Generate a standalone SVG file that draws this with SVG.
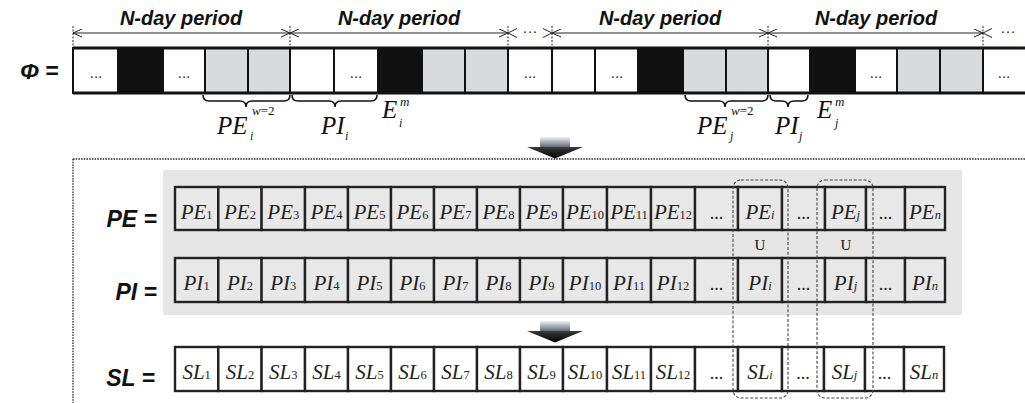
<svg xmlns="http://www.w3.org/2000/svg" width="1025" height="403" viewBox="0 0 1025 403">
  <style>
    .hdr { font-family: "Liberation Sans", Arial, sans-serif; font-weight: bold; font-style: italic; font-size: 20px; fill: #111; }
    .lbl { font-family: "Liberation Sans", Arial, sans-serif; font-weight: bold; font-style: italic; font-size: 23px; fill: #111; }
    .ser { font-family: "Liberation Serif", "Times New Roman", serif; fill: #111; }
    .ct  { font-family: "Liberation Serif", "Times New Roman", serif; font-style: italic; font-size: 21px; fill: #222; text-anchor: middle; }
    .sub { font-style: normal; font-size: 12.5px; }
    .subi { font-style: italic; font-size: 12.5px; }
    .dots { font-family: "Liberation Serif", "Times New Roman", serif; font-size: 18px; fill: #222; text-anchor: middle; }
    .tdots { font-family: "Liberation Sans", Arial, sans-serif; font-size: 15px; fill: #222; text-anchor: middle; }
    .cellW { fill: #ffffff; stroke: #111; stroke-width: 2; }
    .cellK { fill: #111111; stroke: #111; stroke-width: 2; }
    .cellG { fill: #d9dadc; stroke: #111; stroke-width: 2; }
    .box  { fill: #e8e8e8; stroke: #222; stroke-width: 2.4; }
    .boxW { fill: #ffffff; stroke: #222; stroke-width: 2.4; }
    .tick { stroke: #222; stroke-width: 1; stroke-dasharray: 2 1.5; }
    .span { stroke: #222; stroke-width: 1; fill: none; marker-start: url(#vhead); marker-end: url(#vhead); }
    .brace { fill: none; stroke: #111; stroke-width: 1.5; }
    .frame { stroke: #222; stroke-width: 1.3; stroke-dasharray: 1.5 1.2; fill: none; }
    .grp { fill: none; stroke: #444; stroke-width: 1.1; stroke-dasharray: 3 1.8; }
  </style>
  <defs>
    <marker id="vhead" viewBox="0 0 9 9" refX="9" refY="4.5" markerWidth="9" markerHeight="9" markerUnits="userSpaceOnUse" orient="auto-start-reverse">
      <path d="M0,0.5 L9,4.5 L0,8.5" fill="none" stroke="#222" stroke-width="1"/>
    </marker>
    <linearGradient id="shaftGrad" x1="0" y1="0" x2="0" y2="1">
      <stop offset="0" stop-color="#eef2f7"/>
      <stop offset="1" stop-color="#5b6574"/>
    </linearGradient>
    <linearGradient id="headGrad" x1="0" y1="0" x2="0" y2="1">
      <stop offset="0" stop-color="#3a3a3a"/>
      <stop offset="1" stop-color="#000"/>
    </linearGradient>
  </defs>

  <!-- period headers -->
  <g id="periods">
    <text class="hdr" x="181" y="25" text-anchor="middle">N-day period</text>
    <text class="hdr" x="399" y="25" text-anchor="middle">N-day period</text>
    <text class="hdr" x="660" y="25" text-anchor="middle">N-day period</text>
    <text class="hdr" x="876" y="25" text-anchor="middle">N-day period</text>
    <line class="tick" x1="73" y1="26" x2="73" y2="48"/>
    <line class="tick" x1="290" y1="26" x2="290" y2="48"/>
    <line class="tick" x1="508" y1="26" x2="508" y2="48"/>
    <line class="tick" x1="552" y1="26" x2="552" y2="48"/>
    <line class="tick" x1="768" y1="26" x2="768" y2="48"/>
    <line class="tick" x1="983" y1="26" x2="983" y2="48"/>
    <line class="span" x1="73" y1="33" x2="290" y2="33"/>
    <line class="span" x1="290" y1="33" x2="508" y2="33"/>
    <line class="span" x1="552" y1="33" x2="768" y2="33"/>
    <line class="span" x1="768" y1="33" x2="983" y2="33"/>
    <path d="M517,28.5 L508,33 L517,37.5 M543,28.5 L552,33 L543,37.5" fill="none" stroke="#222" stroke-width="1"/>
    <text class="tdots" x="530" y="36">···</text>
    <path d="M992,28.5 L983,33 L992,37.5" fill="none" stroke="#222" stroke-width="1"/>
    <text class="tdots" x="1008" y="36">···</text>
  </g>

  <!-- phi sequence -->
  <g id="phi">
    <text class="lbl" x="20" y="79" font-weight="normal">Φ</text>
    <text class="lbl" x="45" y="79">=</text>
    <rect class="cellW" x="73" y="48" width="45" height="45"/>
    <rect class="cellK" x="118" y="48" width="45" height="45"/>
    <rect class="cellW" x="163" y="48" width="42" height="45"/>
    <rect class="cellG" x="205" y="48" width="43" height="45"/>
    <rect class="cellG" x="248" y="48" width="42" height="45"/>
    <rect class="cellW" x="290" y="48" width="44" height="45"/>
    <rect class="cellW" x="334" y="48" width="44" height="45"/>
    <rect class="cellK" x="378" y="48" width="44" height="45"/>
    <rect class="cellG" x="422" y="48" width="43" height="45"/>
    <rect class="cellG" x="465" y="48" width="43" height="45"/>
    <rect class="cellW" x="508" y="48" width="44" height="45"/>
    <rect class="cellW" x="552" y="48" width="43" height="45"/>
    <rect class="cellW" x="595" y="48" width="43" height="45"/>
    <rect class="cellK" x="638" y="48" width="45" height="45"/>
    <rect class="cellG" x="683" y="48" width="43" height="45"/>
    <rect class="cellG" x="726" y="48" width="42" height="45"/>
    <rect class="cellW" x="768" y="48" width="42" height="45"/>
    <rect class="cellK" x="810" y="48" width="45" height="45"/>
    <rect class="cellW" x="855" y="48" width="42" height="45"/>
    <rect class="cellG" x="897" y="48" width="43" height="45"/>
    <rect class="cellG" x="940" y="48" width="43" height="45"/>
    <rect class="cellW" x="983" y="48" width="50" height="45"/>
    <line x1="73" y1="48" x2="1025" y2="48" stroke="#111" stroke-width="3"/>
    <line x1="73" y1="93" x2="1025" y2="93" stroke="#111" stroke-width="3"/>
    <text class="tdots" x="96" y="78">...</text>
    <text class="tdots" x="184" y="78">...</text>
    <text class="tdots" x="356" y="78">...</text>
    <text class="tdots" x="530" y="78">...</text>
    <text class="tdots" x="617" y="78">...</text>
    <text class="tdots" x="876" y="78">...</text>
    <text class="tdots" x="1004" y="78">...</text>
  </g>

  <!-- braces and their labels -->
  <g id="braces">
    <path class="brace" d="M203,95 Q203,101 209,101 L240,101 Q246,101 246,107 Q246,101 252,101 L284,101 Q290,101 290,95"/>
    <path class="brace" d="M292,95 Q292,101 298,101 L329,101 Q335,101 335,107 Q335,101 341,101 L371,101 Q377,101 377,95"/>
    <path class="brace" d="M685,95 Q685,101 691,101 L719,101 Q725,101 725,107 Q725,101 731,101 L762,101 Q768,101 768,95"/>
    <path class="brace" d="M770,95 Q770,101 776,101 L782,101 Q788,101 788,107 Q788,101 794,101 L802,101 Q808,101 808,95"/>

    <text class="ser" x="217" y="134" font-size="25" font-style="italic">PE</text>
    <text class="ser" x="252" y="115" font-size="13"><tspan font-style="italic">w</tspan>=2</text>
    <text class="ser" x="250" y="140" font-size="12" font-style="italic">i</text>

    <text class="ser" x="321" y="134" font-size="25" font-style="italic">PI</text>
    <text class="ser" x="345" y="140" font-size="12" font-style="italic">i</text>

    <text class="ser" x="382" y="118" font-size="25" font-style="italic">E</text>
    <text class="ser" x="400" y="106" font-size="13" font-style="italic">m</text>
    <text class="ser" x="399" y="127" font-size="12" font-style="italic">i</text>

    <text class="ser" x="697" y="134" font-size="25" font-style="italic">PE</text>
    <text class="ser" x="731" y="115" font-size="13"><tspan font-style="italic">w</tspan>=2</text>
    <text class="ser" x="730" y="140" font-size="12" font-style="italic">j</text>

    <text class="ser" x="775" y="134" font-size="25" font-style="italic">PI</text>
    <text class="ser" x="799" y="140" font-size="12" font-style="italic">j</text>

    <text class="ser" x="817" y="118" font-size="25" font-style="italic">E</text>
    <text class="ser" x="835" y="106" font-size="13" font-style="italic">m</text>
    <text class="ser" x="835" y="127" font-size="12" font-style="italic">j</text>
  </g>

  <!-- dotted frame of the lower part -->
  <g id="frame">
    <line class="frame" x1="73" y1="159" x2="1025" y2="159"/>
    <line class="frame" x1="73" y1="159" x2="73" y2="403"/>
  </g>

  <!-- transition arrows -->
  <g id="arrows">
    <rect x="540" y="137" width="30" height="10.5" fill="url(#shaftGrad)"/>
    <polygon points="527,147 583,147 555,158.5" fill="url(#headGrad)"/>
    <rect x="540" y="321" width="30" height="10.5" fill="url(#shaftGrad)"/>
    <polygon points="527,331 583,331 555,342.5" fill="url(#headGrad)"/>
  </g>

  <!-- shaded panel behind PE and PI -->
  <rect id="panel" x="163" y="170" width="799" height="145" fill="#e6e6e6"/>

  <!-- PE row -->
  <g id="pe-row">
    <text class="lbl" x="157" y="227" text-anchor="end">PE =</text>
    <rect class="box" x="175" y="187" width="43.3" height="43"/>
    <rect class="box" x="218.3" y="187" width="43.3" height="43"/>
    <rect class="box" x="261.6" y="187" width="43.4" height="43"/>
    <rect class="box" x="305" y="187" width="43" height="43"/>
    <rect class="box" x="348" y="187" width="43" height="43"/>
    <rect class="box" x="391" y="187" width="43" height="43"/>
    <rect class="box" x="434" y="187" width="43" height="43"/>
    <rect class="box" x="477" y="187" width="43" height="43"/>
    <rect class="box" x="520" y="187" width="43" height="43"/>
    <rect class="box" x="563" y="187" width="44" height="43"/>
    <rect class="box" x="607" y="187" width="44" height="43"/>
    <rect class="box" x="651" y="187" width="44" height="43"/>
    <rect class="box" x="695" y="187" width="43" height="43"/>
    <rect class="box" x="738" y="187" width="44" height="43"/>
    <rect class="box" x="782" y="187" width="43" height="43"/>
    <rect class="box" x="825" y="187" width="41" height="43"/>
    <rect class="box" x="866" y="187" width="39" height="43"/>
    <rect class="box" x="905" y="187" width="40" height="43"/>
    <text class="ct" x="196.6" y="219">PE<tspan class="sub">1</tspan></text>
    <text class="ct" x="240" y="219">PE<tspan class="sub">2</tspan></text>
    <text class="ct" x="283.3" y="219">PE<tspan class="sub">3</tspan></text>
    <text class="ct" x="326.5" y="219">PE<tspan class="sub">4</tspan></text>
    <text class="ct" x="369.5" y="219">PE<tspan class="sub">5</tspan></text>
    <text class="ct" x="412.5" y="219">PE<tspan class="sub">6</tspan></text>
    <text class="ct" x="455.5" y="219">PE<tspan class="sub">7</tspan></text>
    <text class="ct" x="498.5" y="219">PE<tspan class="sub">8</tspan></text>
    <text class="ct" x="541.5" y="219">PE<tspan class="sub">9</tspan></text>
    <text class="ct" x="585" y="219">PE<tspan class="sub">10</tspan></text>
    <text class="ct" x="629" y="219">PE<tspan class="sub">11</tspan></text>
    <text class="ct" x="673" y="219">PE<tspan class="sub">12</tspan></text>
    <text class="dots" x="716.5" y="219">...</text>
    <text class="ct" x="760" y="219">PE<tspan class="subi">i</tspan></text>
    <text class="dots" x="803.5" y="219">...</text>
    <text class="ct" x="845.5" y="219">PE<tspan class="subi">j</tspan></text>
    <text class="dots" x="885.5" y="219">...</text>
    <text class="ct" x="925" y="219">PE<tspan class="subi">n</tspan></text>
  </g>

  <!-- union marks -->
  <g id="unions">
    <text class="ser" x="760" y="250" font-size="15" text-anchor="middle">U</text>
    <text class="ser" x="846" y="250" font-size="15" text-anchor="middle">U</text>
  </g>

  <!-- PI row -->
  <g id="pi-row">
    <text class="lbl" x="157" y="300" text-anchor="end">PI =</text>
    <rect class="box" x="175" y="258" width="43.3" height="44"/>
    <rect class="box" x="218.3" y="258" width="43.3" height="44"/>
    <rect class="box" x="261.6" y="258" width="43.4" height="44"/>
    <rect class="box" x="305" y="258" width="43" height="44"/>
    <rect class="box" x="348" y="258" width="43" height="44"/>
    <rect class="box" x="391" y="258" width="43" height="44"/>
    <rect class="box" x="434" y="258" width="43" height="44"/>
    <rect class="box" x="477" y="258" width="43" height="44"/>
    <rect class="box" x="520" y="258" width="43" height="44"/>
    <rect class="box" x="563" y="258" width="44" height="44"/>
    <rect class="box" x="607" y="258" width="44" height="44"/>
    <rect class="box" x="651" y="258" width="44" height="44"/>
    <rect class="box" x="695" y="258" width="43" height="44"/>
    <rect class="box" x="738" y="258" width="44" height="44"/>
    <rect class="box" x="782" y="258" width="43" height="44"/>
    <rect class="box" x="825" y="258" width="41" height="44"/>
    <rect class="box" x="866" y="258" width="39" height="44"/>
    <rect class="box" x="905" y="258" width="40" height="44"/>
    <text class="ct" x="196.6" y="290">PI<tspan class="sub">1</tspan></text>
    <text class="ct" x="240" y="290">PI<tspan class="sub">2</tspan></text>
    <text class="ct" x="283.3" y="290">PI<tspan class="sub">3</tspan></text>
    <text class="ct" x="326.5" y="290">PI<tspan class="sub">4</tspan></text>
    <text class="ct" x="369.5" y="290">PI<tspan class="sub">5</tspan></text>
    <text class="ct" x="412.5" y="290">PI<tspan class="sub">6</tspan></text>
    <text class="ct" x="455.5" y="290">PI<tspan class="sub">7</tspan></text>
    <text class="ct" x="498.5" y="290">PI<tspan class="sub">8</tspan></text>
    <text class="ct" x="541.5" y="290">PI<tspan class="sub">9</tspan></text>
    <text class="ct" x="585" y="290">PI<tspan class="sub">10</tspan></text>
    <text class="ct" x="629" y="290">PI<tspan class="sub">11</tspan></text>
    <text class="ct" x="673" y="290">PI<tspan class="sub">12</tspan></text>
    <text class="dots" x="716.5" y="290">...</text>
    <text class="ct" x="760" y="290">PI<tspan class="subi">i</tspan></text>
    <text class="dots" x="803.5" y="290">...</text>
    <text class="ct" x="845.5" y="290">PI<tspan class="subi">j</tspan></text>
    <text class="dots" x="885.5" y="290">...</text>
    <text class="ct" x="925" y="290">PI<tspan class="subi">n</tspan></text>
  </g>

  <!-- SL row -->
  <g id="sl-row">
    <text class="lbl" x="155" y="386" text-anchor="end">SL =</text>
    <rect class="boxW" x="175" y="347" width="43.3" height="44"/>
    <rect class="boxW" x="218.3" y="347" width="43.3" height="44"/>
    <rect class="boxW" x="261.6" y="347" width="43.4" height="44"/>
    <rect class="boxW" x="305" y="347" width="43" height="44"/>
    <rect class="boxW" x="348" y="347" width="43" height="44"/>
    <rect class="boxW" x="391" y="347" width="43" height="44"/>
    <rect class="boxW" x="434" y="347" width="43" height="44"/>
    <rect class="boxW" x="477" y="347" width="43" height="44"/>
    <rect class="boxW" x="520" y="347" width="43" height="44"/>
    <rect class="boxW" x="563" y="347" width="44" height="44"/>
    <rect class="boxW" x="607" y="347" width="44" height="44"/>
    <rect class="boxW" x="651" y="347" width="44" height="44"/>
    <rect class="boxW" x="695" y="347" width="43" height="44"/>
    <rect class="boxW" x="738" y="347" width="44" height="44"/>
    <rect class="boxW" x="782" y="347" width="42" height="44"/>
    <rect class="boxW" x="824" y="347" width="41" height="44"/>
    <rect class="boxW" x="865" y="347" width="39" height="44"/>
    <rect class="boxW" x="904" y="347" width="40" height="44"/>
    <text class="ct" x="196.6" y="379">SL<tspan class="sub">1</tspan></text>
    <text class="ct" x="240" y="379">SL<tspan class="sub">2</tspan></text>
    <text class="ct" x="283.3" y="379">SL<tspan class="sub">3</tspan></text>
    <text class="ct" x="326.5" y="379">SL<tspan class="sub">4</tspan></text>
    <text class="ct" x="369.5" y="379">SL<tspan class="sub">5</tspan></text>
    <text class="ct" x="412.5" y="379">SL<tspan class="sub">6</tspan></text>
    <text class="ct" x="455.5" y="379">SL<tspan class="sub">7</tspan></text>
    <text class="ct" x="498.5" y="379">SL<tspan class="sub">8</tspan></text>
    <text class="ct" x="541.5" y="379">SL<tspan class="sub">9</tspan></text>
    <text class="ct" x="585" y="379">SL<tspan class="sub">10</tspan></text>
    <text class="ct" x="629" y="379">SL<tspan class="sub">11</tspan></text>
    <text class="ct" x="673" y="379">SL<tspan class="sub">12</tspan></text>
    <text class="dots" x="716.5" y="379">...</text>
    <text class="ct" x="760" y="379">SL<tspan class="subi">i</tspan></text>
    <text class="dots" x="803" y="379">...</text>
    <text class="ct" x="844.5" y="379">SL<tspan class="subi">j</tspan></text>
    <text class="dots" x="884.5" y="379">...</text>
    <text class="ct" x="924" y="379">SL<tspan class="subi">n</tspan></text>
  </g>

  <!-- column groupings i and j -->
  <g id="groups">
    <rect class="grp" x="733" y="180" width="55" height="218" rx="8"/>
    <rect class="grp" x="817" y="180" width="56" height="218" rx="8"/>
  </g>
</svg>
